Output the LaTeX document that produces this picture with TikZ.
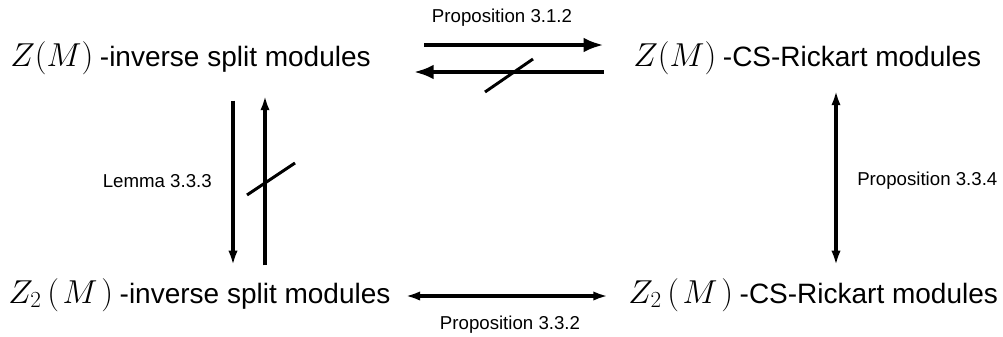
\documentclass[tikz,border=0pt]{standalone}
\usepackage[no-math]{fontspec}
\setmainfont{Liberation Sans}
\usetikzlibrary{arrows.meta}

\newcommand{\mlbl}[1]{{\fontsize{23.5}{28}\selectfont$#1$}\hspace{5pt}}

\begin{document}
\begin{tikzpicture}[x=0.75pt, y=-0.75pt,
    every node/.style={inner sep=0pt},
    bigtext/.style={anchor=base west, font=\fontsize{21}{25}\selectfont},
    smalltext/.style={font=\fontsize{14}{17}\selectfont},
    bigarr/.style={line width=3pt, -{Latex[length=15pt,width=11pt]}},
    thinarr/.style={line width=2.6pt, -{Latex[length=11pt,width=7pt]}},
    dblarr/.style={line width=2.6pt, {Latex[length=11pt,width=7pt]}-{Latex[length=11pt,width=7pt]}},
    strike/.style={line width=2.2pt}]
  \useasboundingbox (0,0) rectangle (1003,336);

  % the four classes of modules
  \node[bigtext] (zinv)  at (10,66)  {\mlbl{Z(M)}-inverse split modules};
  \node[bigtext] (zcs)   at (633,66) {\mlbl{Z(M)}-CS-Rickart modules};
  \node[bigtext] (ztinv) at (8,303)  {\mlbl{Z_2\mkern3mu(\mkern2mu M\mkern2mu)}-inverse split modules};
  \node[bigtext] (ztcs)  at (628,303) {\mlbl{Z_2\mkern3mu(\mkern2mu M\mkern2mu)}-CS-Rickart modules};

  % rows and columns of the arrows
  \coordinate (rowa) at (0,45);
  \coordinate (rowb) at (0,72);
  \coordinate (rowc) at (0,296);
  \coordinate (cola) at (233,0);
  \coordinate (colb) at (265,0);
  \coordinate (colc) at (836,0);

  % top
  \draw[bigarr, shorten <=40pt, shorten >=22pt] (zinv.east |- rowa) -- (zcs.west |- rowa);
  \draw[bigarr, shorten <=22pt, shorten >=32pt] (zcs.west |- rowb) -- (zinv.east |- rowb);
  \draw[strike] (485,92) -- (533,59);
  \node[smalltext] (p312) at (502,18) {Proposition 3.1.2};

  % left
  \draw[thinarr, shorten <=19.5pt, shorten >=9.4pt] (zinv.south -| cola) -- (ztinv.north -| cola);
  \draw[thinarr, shorten <=9.4pt, shorten >=15.75pt] (ztinv.north -| colb) -- (zinv.south -| colb);
  \draw[strike] (247,195) -- (295,163);
  \node[smalltext, anchor=east] (l333) at (212,181) {Lemma 3.3.3};

  % right
  \draw[dblarr, shorten <=12pt, shorten >=9.4pt] (zcs.south -| colc) -- (ztcs.north -| colc);
  \node[smalltext, anchor=west] (p334) at (857,181) {Proposition 3.3.4};

  % bottom
  \draw[dblarr, shorten <=11pt, shorten >=15pt] (ztinv.east |- rowc) -- (ztcs.west |- rowc);
  \node[smalltext] (p332) at (510,325) {Proposition 3.3.2};
\end{tikzpicture}
\end{document}
